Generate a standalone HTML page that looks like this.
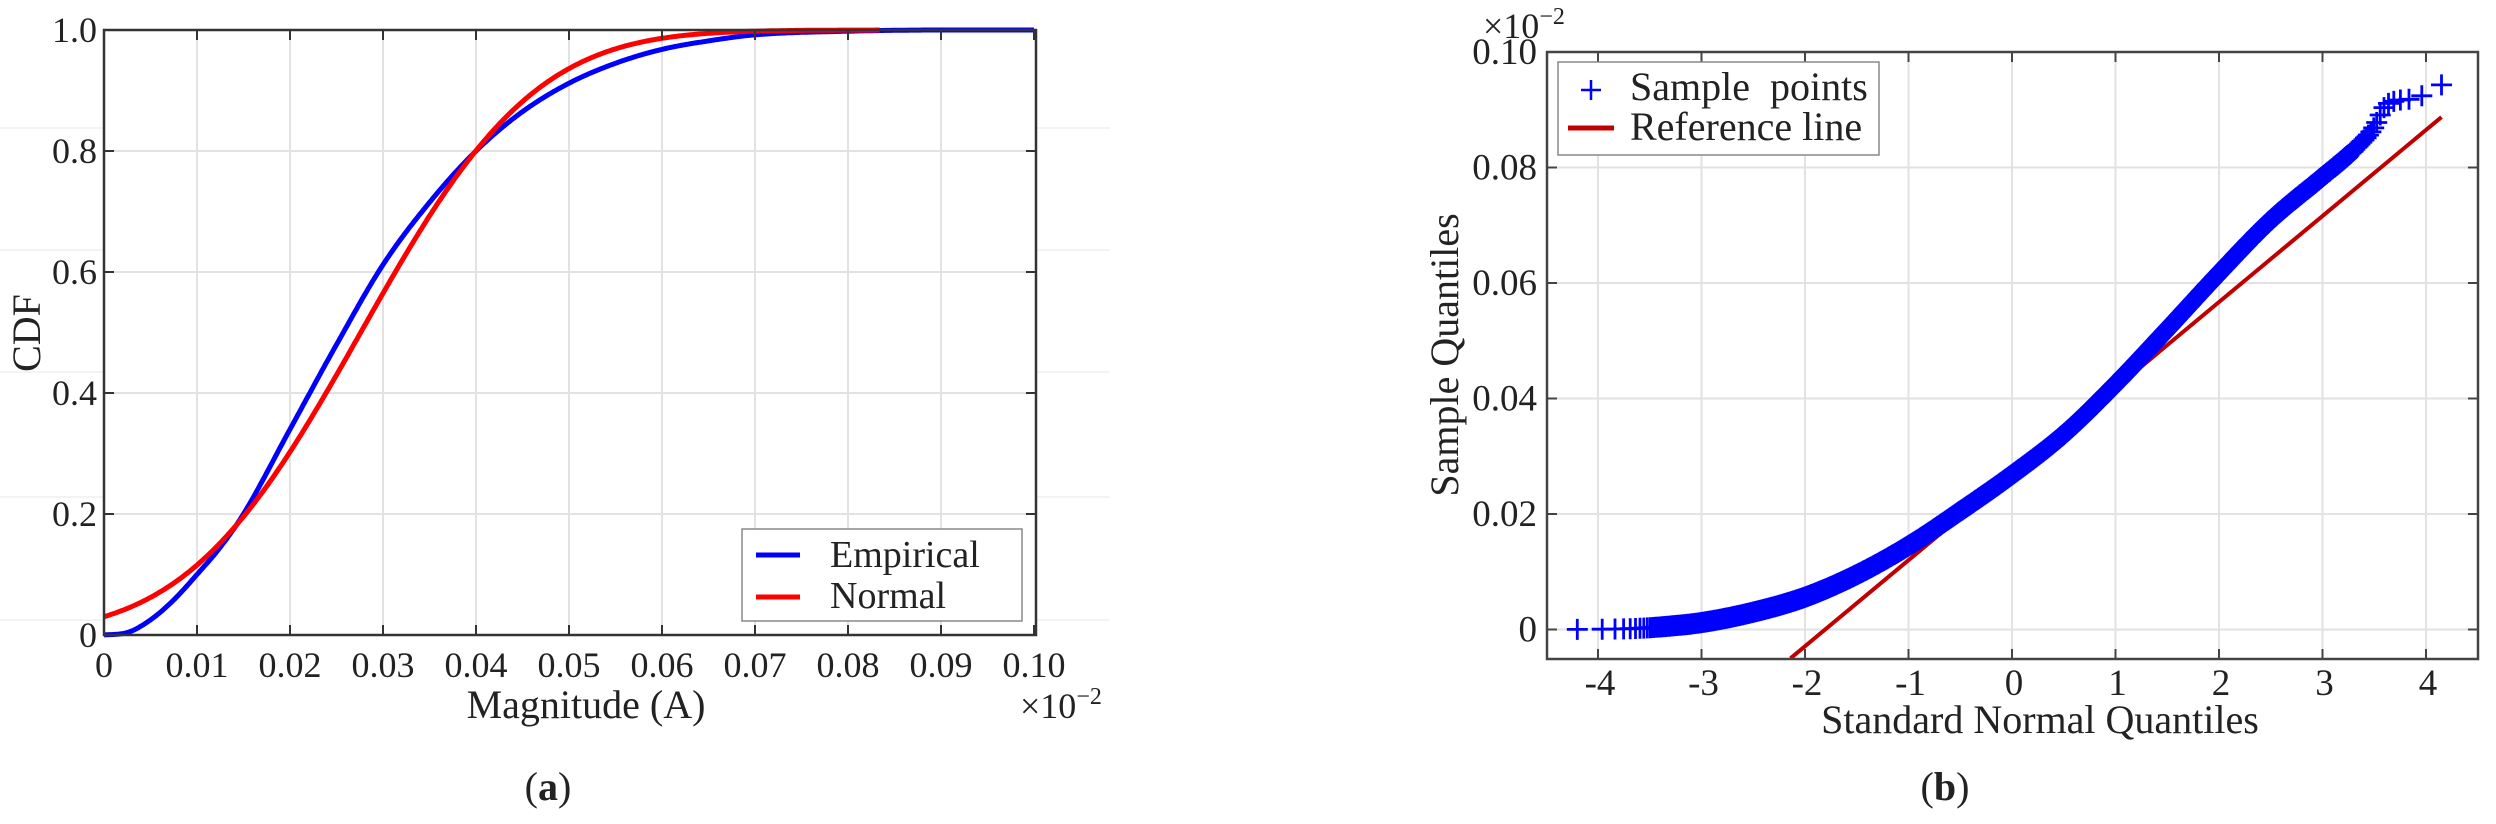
<!DOCTYPE html>
<html><head><meta charset="utf-8">
<style>
html,body{margin:0;padding:0;background:#fff;}
svg{display:block;}
text{font-family:"Liberation Serif",serif;fill:#222;}
</style></head>
<body>
<svg id="s" width="2496" height="824" viewBox="0 0 2496 824" xmlns="http://www.w3.org/2000/svg">
<g id="g1"></g>
<g id="g2"></g>
<text x="40" y="333" font-size="40" text-anchor="middle" transform="rotate(-90 40 333)">CDF</text>
<text x="586" y="718" font-size="40" text-anchor="middle">Magnitude (A)</text>
<text x="1020" y="718" font-size="36">×10<tspan font-size="24" dy="-14">−2</tspan></text>
<text x="548" y="800" font-size="40" text-anchor="middle">(<tspan font-weight="bold">a</tspan>)</text>
<text x="1458" y="355" font-size="40" text-anchor="middle" transform="rotate(-90 1458 355)">Sample Quantiles</text>
<text x="2040" y="733" font-size="40" text-anchor="middle">Standard Normal Quantiles</text>
<text x="1483" y="38" font-size="36">×10<tspan font-size="24" dy="-14">−2</tspan></text>
<text x="1945" y="800" font-size="40" text-anchor="middle">(<tspan font-weight="bold">b</tspan>)</text>
</svg>
<script>
var NS="http://www.w3.org/2000/svg";
function el(p,t,a,txt){var e=document.createElementNS(NS,t);for(var k in a)e.setAttribute(k,a[k]);if(txt!==undefined)e.textContent=txt;p.appendChild(e);return e;}
function mono(tab){var n=tab.length,xs=[],ys=[],dl=[],m=[];for(var i=0;i<n;i++){xs.push(tab[i][0]);ys.push(tab[i][1]);}
 for(var i=0;i<n-1;i++)dl.push((ys[i+1]-ys[i])/(xs[i+1]-xs[i]));
 m[0]=dl[0];m[n-1]=dl[n-2];for(var i=1;i<n-1;i++){if(dl[i-1]*dl[i]<=0)m[i]=0;else m[i]=(dl[i-1]+dl[i])/2;}
 for(var i=0;i<n-1;i++){if(dl[i]==0){m[i]=0;m[i+1]=0;continue;}var a=m[i]/dl[i],b=m[i+1]/dl[i],s=a*a+b*b;if(s>9){var t=3/Math.sqrt(s);m[i]=t*a*dl[i];m[i+1]=t*b*dl[i];}}
 return function(x){if(x<=xs[0])return ys[0];if(x>=xs[n-1])return ys[n-1];var i=0;while(x>xs[i+1])i++;var h=xs[i+1]-xs[i],t=(x-xs[i])/h,t2=t*t,t3=t2*t;
  return (2*t3-3*t2+1)*ys[i]+(t3-2*t2+t)*h*m[i]+(-2*t3+3*t2)*ys[i+1]+(t3-t2)*h*m[i+1];};}
function erf(x){var s=x<0?-1:1;x=Math.abs(x);var t=1/(1+0.3275911*x);var y=1-(((((1.061405429*t-1.453152027)*t)+1.421413741)*t-0.284496736)*t+0.254829592)*t*Math.exp(-x*x);return s*y;}
function ncdf(z){return 0.5*(1+erf(z/Math.SQRT2));}
function ninv(p){var a=[-39.69683028665376,220.9460984245205,-275.9285104469687,138.3577518672690,-30.66479806614716,2.506628277459239],b=[-54.47609879822406,161.5858368580409,-155.6989798598866,66.80131188771972,-13.28068155211827],c=[-0.007784894002430293,-0.3223964580411365,-2.400758277161838,-2.549732539343734,4.374664141464968,2.938163982698783],d=[0.007784695709041462,0.3224671290700398,2.445134137142996,3.754408661907416];var q,r;if(p<0.02425){q=Math.sqrt(-2*Math.log(p));return(((((c[0]*q+c[1])*q+c[2])*q+c[3])*q+c[4])*q+c[5])/((((d[0]*q+d[1])*q+d[2])*q+d[3])*q+1);}if(p>1-0.02425){q=Math.sqrt(-2*Math.log(1-p));return-(((((c[0]*q+c[1])*q+c[2])*q+c[3])*q+c[4])*q+c[5])/((((d[0]*q+d[1])*q+d[2])*q+d[3])*q+1);}q=p-0.5;r=q*q;return(((((a[0]*r+a[1])*r+a[2])*r+a[3])*r+a[4])*r+a[5])*q/(((((b[0]*r+b[1])*r+b[2])*r+b[3])*r+b[4])*r+1);}

/* ---------- Left chart ---------- */
var g1=document.getElementById('g1');
var L=104,R=1036,T=30,B=635;
function X1(v){return L+v/0.1*(1034-104);}
function Y1(v){return B-v*(B-T);}
[128,250,372,497,620].forEach(function(y){el(g1,'line',{x1:0,x2:1110,y1:y,y2:y,stroke:'#f3f3f3','stroke-width':2});});
el(g1,'rect',{x:L,y:T,width:R-L,height:B-T,fill:'#fff'});
for(var i=1;i<10;i++){var x=X1(i*0.01);el(g1,'line',{x1:x,x2:x,y1:T,y2:B,stroke:'#e2e2e2','stroke-width':2});}
for(var j=1;j<5;j++){var y=Y1(j*0.2);el(g1,'line',{x1:L,x2:R,y1:y,y2:y,stroke:'#e2e2e2','stroke-width':2});}
var emp=mono([[0,0],[0.0025,0.004],[0.005,0.025],[0.0075,0.058],[0.01,0.10],[0.0125,0.145],[0.015,0.2],[0.02,0.34],[0.025,0.48],[0.03,0.612],[0.035,0.715],[0.04,0.80],[0.045,0.865],[0.05,0.912],[0.055,0.945],[0.06,0.968],[0.065,0.982],[0.07,0.992],[0.08,0.998],[0.09,1],[0.1,1]]);
var pb='',pr='';
for(var k=0;k<=500;k++){var v=k*0.0002;var yb=emp(v);pb+=(k?'L':'M')+X1(v).toFixed(1)+' '+Y1(yb).toFixed(1);
 if(v<=0.0835){var yr=ncdf((v-0.0276)/0.0147);pr+=(k?'L':'M')+X1(v).toFixed(1)+' '+Y1(yr).toFixed(1);}}
el(g1,'path',{d:pb,fill:'none',stroke:'#0000ff','stroke-width':5,'stroke-linejoin':'round'});
el(g1,'path',{d:pr,fill:'none',stroke:'#ff0000','stroke-width':5,'stroke-linejoin':'round'});
el(g1,'rect',{x:L,y:T,width:R-L,height:B-T,fill:'none',stroke:'#333','stroke-width':2.5});
for(var i=0;i<=10;i++){var x=X1(i*0.01);el(g1,'line',{x1:x,x2:x,y1:B,y2:B-10,stroke:'#333','stroke-width':2});el(g1,'line',{x1:x,x2:x,y1:T,y2:T+10,stroke:'#333','stroke-width':2});
 el(g1,'text',{x:x,y:677,'font-size':36,'text-anchor':'middle'},i==0?'0':(i==10?'0.10':'0.0'+i));}
for(var j=0;j<=5;j++){var y=Y1(j*0.2);el(g1,'line',{x1:L,x2:L+10,y1:y,y2:y,stroke:'#333','stroke-width':2});el(g1,'line',{x1:R,x2:R-10,y1:y,y2:y,stroke:'#333','stroke-width':2});
 el(g1,'text',{x:97,y:y+12,'font-size':36,'text-anchor':'end'},j==0?'0':(j==5?'1.0':'0.'+(2*j)));}
el(g1,'rect',{x:742,y:529,width:280,height:92,fill:'#fff',stroke:'#888','stroke-width':1.5});
el(g1,'line',{x1:756,x2:800,y1:555,y2:555,stroke:'#0000ff','stroke-width':5});
el(g1,'line',{x1:756,x2:800,y1:597,y2:597,stroke:'#ff0000','stroke-width':5});
el(g1,'text',{x:830,y:567,'font-size':38},'Empirical');
el(g1,'text',{x:830,y:608,'font-size':38},'Normal');

/* ---------- Right chart ---------- */
var g2=document.getElementById('g2');
var L2=1547,R2=2478,T2=52,B2=659;
function X2(z){return 2012+z*103.5;}
function Y2(v){return 629.5-v*5775;}
for(var i=-4;i<=4;i++){var x=X2(i);el(g2,'line',{x1:x,x2:x,y1:T2,y2:B2,stroke:'#e2e2e2','stroke-width':2});}
for(var j=0;j<=4;j++){var y=Y2(j*0.02);el(g2,'line',{x1:L2,x2:R2,y1:y,y2:y,stroke:'#e2e2e2','stroke-width':2});}
el(g2,'line',{x1:X2(-2.14),y1:Y2(0.0269-0.0149*2.14),x2:X2(4.15),y2:Y2(0.0269+0.0149*4.15),stroke:'#c00000','stroke-width':4});
var qt=mono([[-4.25,0],[-3.6,0.0002],[-3.3,0.0006],[-3,0.0012],[-2.5,0.003],[-2,0.0056],[-1.5,0.0095],[-1,0.0145],[-0.5,0.0205],[0,0.0268],[0.5,0.0338],[1,0.0425],[1.5,0.052],[2,0.0617],[2.5,0.0709],[3,0.0784],[3.3,0.083],[3.5,0.087],[3.6,0.0905],[3.7,0.0915],[3.9,0.092],[4.15,0.0943]]);
// solid band core
var bd='';for(var z=-3.4;z<=3.3;z+=0.02){bd+=(bd?'L':'M')+X2(z).toFixed(1)+' '+Y2(qt(z)).toFixed(1);}
el(g2,'path',{d:bd,fill:'none',stroke:'#0000ff','stroke-width':17,'stroke-linejoin':'round','stroke-linecap':'round'});
var n=40000,d='',lastx=-1e9;
var zs=[];
for(var i=1;i<=n;i++){var z=ninv((i-0.5)/n);if(z<-4.22||z>4.16)continue;zs.push(z);}
zs.push(4.15);zs.unshift(-4.2);
for(var i=0;i<zs.length;i++){var z=zs[i];var x=X2(z);if(i>0&&i<zs.length-1&&x-lastx<0.8)continue;lastx=x;var y=Y2(qt(z));
 d+='M'+(x-10.5).toFixed(1)+' '+y.toFixed(1)+'h21M'+x.toFixed(1)+' '+(y-10.5).toFixed(1)+'v21';}
el(g2,'path',{d:d,fill:'none',stroke:'#0000ff','stroke-width':2.8});
el(g2,'rect',{x:L2,y:T2,width:R2-L2,height:B2-T2,fill:'none',stroke:'#444','stroke-width':2.5});
for(var i=-4;i<=4;i++){var x=X2(i);el(g2,'line',{x1:x,x2:x,y1:B2,y2:B2-10,stroke:'#444','stroke-width':2});el(g2,'line',{x1:x,x2:x,y1:T2,y2:T2+10,stroke:'#444','stroke-width':2});
 el(g2,'text',{x:x+2,y:695,'font-size':37,'text-anchor':'middle'},String(i));}
for(var j=0;j<=5;j++){var y=Y2(j*0.02);el(g2,'line',{x1:L2,x2:L2+10,y1:y,y2:y,stroke:'#444','stroke-width':2});el(g2,'line',{x1:R2,x2:R2-10,y1:y,y2:y,stroke:'#444','stroke-width':2});
 el(g2,'text',{x:1537,y:y+12,'font-size':37,'text-anchor':'end'},j==0?'0':(j==5?'0.10':'0.0'+(2*j)));}
el(g2,'rect',{x:1558,y:62,width:321,height:93,fill:'#fff',stroke:'#888','stroke-width':1.5});
el(g2,'path',{d:'M1581 90h20M1591 80v20',stroke:'#0000ff','stroke-width':2.5,fill:'none'});
el(g2,'line',{x1:1568,x2:1614,y1:128,y2:128,stroke:'#c00000','stroke-width':5});
el(g2,'text',{x:1630,y:100,'font-size':40},'Sample\u00a0 points');
el(g2,'text',{x:1630,y:140,'font-size':40},'Reference line');
</script>
</body></html>
